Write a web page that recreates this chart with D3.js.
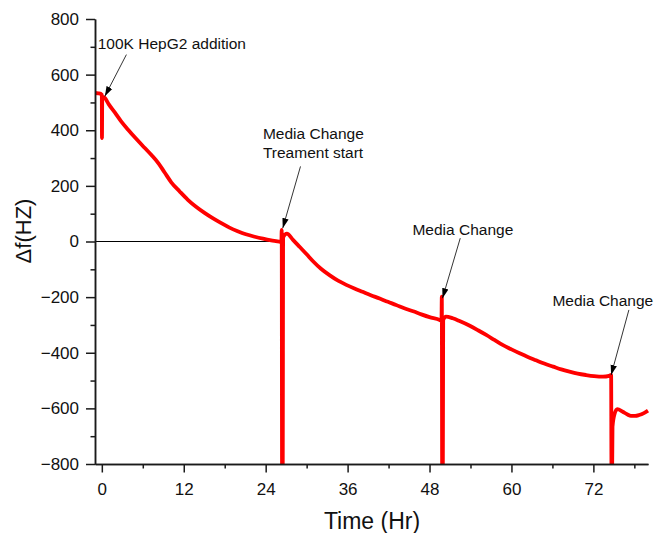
<!DOCTYPE html>
<meta charset="utf-8">
<style>
  body{ margin:0; background:#fff; }
  svg text{ font-family: Arial, "Liberation Sans", sans-serif; fill:#111; }
  .axis path, .axis line{ stroke:#1a1a1a; stroke-width:1.5; }
</style>
<script src="https://d3js.org/d3.v7.min.js"></script>
<svg id="vis"></svg>
<script>
  var width = 657, height = 533,
    margin = {top: 19, right: 9, bottom: 69, left: 95},
    red = "#ff0000";

  // data -------------------------------------------------
  var timeHr = [
    -1.0, -0.5, -0.15, 0.0, 0.02, 0.06, 0.44, 1.0, 1.9, 2.8, 3.85, 5.0, 6.3, 7.3, 8.3, 9.2,
    10.2, 11.4, 12.6, 13.8, 15.1, 16.3, 17.5, 18.7, 19.9, 21.1, 22.4, 23.6, 24.8, 26.05,
    26.3, 26.35, 26.4, 26.5, 26.55, 27.1, 28.0, 29.0, 30.0, 30.9, 32.1, 33.4, 34.6, 35.8,
    37.0, 38.2, 39.4, 40.7, 41.9, 43.1, 44.3, 45.6, 46.8, 48.0, 49.5, 49.75, 49.8, 49.85,
    49.95, 50.0, 50.4, 51.4, 52.4, 53.9, 55.1, 56.3, 57.5, 58.7, 60.0, 61.2, 62.4, 63.6,
    64.8, 66.1, 67.3, 68.5, 69.7, 70.9, 72.1, 73.4, 74.3, 74.6, 74.65, 74.75, 74.8, 75.1,
    75.5, 76.3, 77.0, 77.5, 78.1, 78.7, 79.4, 80.0
  ];
  var deltaF = [
    534, 533, 531, 528, 372, 521, 516, 494, 464, 433, 402, 370, 336, 310, 281, 248,
    212, 180, 150, 125, 102, 83, 66, 50, 37, 26, 17, 10, 4, -1,
    -3, 42, -820, -820, 15, 28, 6, -20, -46, -70, -98, -122, -141, -156,
    -169, -181, -193, -205, -217, -228, -240, -251, -262, -272, -282, -285, -198, -820,
    -820, -282, -270, -276, -286, -303, -319, -336, -354, -372, -388, -402, -415, -427,
    -439, -450, -460, -468, -475, -480, -484, -486, -483, -480, -820, -820, -666, -620,
    -603, -612, -622, -627, -627, -624, -617, -608
  ];
  var xTicks = [0, 12, 24, 36, 48, 60, 72];
  var xMinor = [6, 18, 30, 42, 54, 66, 78];
  var yTicks = [-800, -600, -400, -200, 0, 200, 400, 600, 800];
  var yMinor = [-700, -500, -300, -100, 100, 300, 500, 700];

  // annotations: text lines, text anchor, arrow tail and tip (data units)
  var noteText = [["100K HepG2 addition"], ["Media Change", "Treament start"], ["Media Change"], ["Media Change"]];
  var noteAt   = [[-0.6, 693], [23.6, 370], [45.5, 24], [66.0, -231]];
  var noteFrom = [[3.6, 672], [29.1, 270], [52.5, 12], [77.2, -246]];
  var noteTo   = [[0.44, 522], [26.5, 48], [49.9, -204], [74.6, -480]];

  var data = timeHr.map(function(t, i){ return {t: t, v: deltaF[i]}; });

  // scales -------------------------------------------------
  var x = d3.scaleLinear().domain([-1, 80]).range([margin.left, width - margin.right]);
  var y = d3.scaleLinear().domain([-800, 800]).range([height - margin.bottom, margin.top]);

  var svg = d3.select("#vis").attr("width", width).attr("height", height);
  var defs = svg.append("defs");

  defs.append("clipPath").attr("id", "plot")
    .append("rect")
    .attr("x", margin.left).attr("y", margin.top)
    .attr("width", width - margin.left - margin.right + 2)
    .attr("height", height - margin.top - margin.bottom);

  defs.append("marker")
    .attr("id", "arrow")
    .attr("markerUnits", "userSpaceOnUse")
    .attr("viewBox", "-10 -4 10 8")
    .attr("refX", 0).attr("refY", 0)
    .attr("markerWidth", 10).attr("markerHeight", 8)
    .attr("orient", "auto")
    .append("path").attr("d", "M0,0L-10,-3.2L-10,3.2Z").style("fill", "#000");

  // zero reference line
  svg.append("line")
    .attr("x1", x(-1)).attr("x2", x(26.35))
    .attr("y1", y(0)).attr("y2", y(0))
    .style("stroke", "#000").style("stroke-width", 1);

  // data line
  var line = d3.line()
    .curve(d3.curveMonotoneX)
    .x(function(d){ return x(d.t); })
    .y(function(d){ return y(d.v); });
  svg.append("path")
    .datum(data)
    .attr("clip-path", "url(#plot)")
    .attr("d", line)
    .style("fill", "none")
    .style("stroke", red)
    .style("stroke-width", 3.8)
    .style("stroke-linejoin", "round");

  // axes -------------------------------------------------
  var xAxis = svg.append("g").attr("class", "axis")
    .attr("transform", "translate(0," + y(-800) + ")");
  xAxis.call(d3.axisBottom(x).tickValues(xMinor).tickSize(4.5).tickSizeOuter(0).tickFormat(""));
  xAxis.append("g").call(d3.axisBottom(x).tickValues(xTicks).tickSize(8.5).tickSizeOuter(0).tickPadding(10));

  var yAxis = svg.append("g").attr("class", "axis")
    .attr("transform", "translate(" + x(-1) + ",0)");
  yAxis.call(d3.axisLeft(y).tickValues(yMinor).tickSize(4.5).tickSizeOuter(0).tickFormat(""));
  yAxis.append("g").call(d3.axisLeft(y).tickValues(yTicks).tickSize(9).tickSizeOuter(0).tickPadding(7));

  svg.selectAll(".axis text").style("font-size", "17px").style("fill", "#111");

  // axis titles
  svg.append("text")
    .attr("x", 372).attr("y", 529)
    .attr("text-anchor", "middle")
    .style("font-size", "23px")
    .text("Time (Hr)");

  svg.append("text")
    .attr("transform", "translate(31,231) rotate(-90)")
    .attr("text-anchor", "middle")
    .style("font-size", "22px")
    .text("\u0394f(HZ)");

  // annotations -------------------------------------------------
  noteText.forEach(function(lines, i){
    var t = svg.append("text")
      .attr("x", x(noteAt[i][0])).attr("y", y(noteAt[i][1]))
      .style("font-size", "15.5px");
    lines.forEach(function(s, j){
      t.append("tspan").attr("x", x(noteAt[i][0])).attr("dy", j ? 19 : 0).text(s);
    });
    svg.append("line")
      .attr("x1", x(noteFrom[i][0])).attr("y1", y(noteFrom[i][1]))
      .attr("x2", x(noteTo[i][0])).attr("y2", y(noteTo[i][1]))
      .attr("marker-end", "url(#arrow)")
      .style("stroke", "#000").style("stroke-width", 0.8);
  });
</script>
